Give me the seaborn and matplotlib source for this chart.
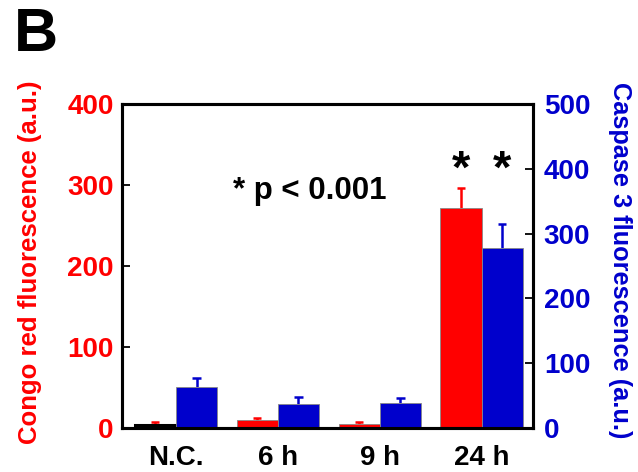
import numpy as np
import pandas as pd
import matplotlib
matplotlib.use("Agg")
import matplotlib.pyplot as plt
import seaborn as sns

# values
groups = ["N.C.", "6 h", "9 h", "24 h"]
congo = [4, 10, 4.5, 272]
congo_err = [4, 3, 3, 24]
casp = [64, 37, 38, 278]
casp_err = [14, 11, 9, 37]

RED = "#ff0000"
BLUE = "#0000cc"

sns.set_style("white")
plt.rcParams["font.family"] = ["Liberation Sans", "DejaVu Sans"]
plt.rcParams["font.weight"] = "bold"
plt.rcParams["text.color"] = "black"
plt.rcParams["xtick.color"] = "black"
plt.rcParams["ytick.color"] = "black"

fig = plt.figure(figsize=(6.38, 4.72), dpi=100)
ax = fig.add_axes([0.191, 0.093, 0.644, 0.687])
ax2 = ax.twinx()

hue_order = ["congo", "casp"]
pal = {"congo": RED, "casp": BLUE}
df_red = pd.DataFrame({"time": groups + groups, "series": ["congo"] * 4 + ["casp"] * 4,
                       "val": congo + [np.nan] * 4})
df_blue = pd.DataFrame({"time": groups + groups, "series": ["congo"] * 4 + ["casp"] * 4,
                        "val": [np.nan] * 4 + casp})

w = 0.81
sns.barplot(data=df_red, x="time", y="val", hue="series", hue_order=hue_order, order=groups,
            palette=pal, width=w, errorbar=None, legend=False, ax=ax,
            edgecolor="#888888", linewidth=0.6, saturation=1, zorder=3)
sns.barplot(data=df_blue, x="time", y="val", hue="series", hue_order=hue_order, order=groups,
            palette=pal, width=w, errorbar=None, legend=False, ax=ax2,
            edgecolor="#888888", linewidth=0.6, saturation=1, zorder=3)

# upper-only error bars with a cap on top
xs = np.arange(len(groups))
off = w / 4
cap = 0.04
for a, xpos, vals, errs, col in [(ax, xs - off, congo, congo_err, RED),
                                 (ax2, xs + off, casp, casp_err, BLUE)]:
    tops = np.array(vals) + np.array(errs)
    a.vlines(xpos, vals, tops, colors=col, linewidth=1.8, zorder=2)
    a.hlines(tops, xpos - cap, xpos + cap, colors=col, linewidth=1.8, zorder=2)

# black outline on the N.C. congo bar
for p in ax.patches:
    if abs(p.get_x() + p.get_width() / 2 - (0 - off)) < 0.01:
        p.set_edgecolor("black")
        p.set_linewidth(2.2)

ax.set_xlim(-0.53, 3.5)
ax.set_ylim(0, 400)
ax2.set_ylim(0, 500)
ax.set_yticks([0, 100, 200, 300, 400])
ax2.set_yticks([0, 100, 200, 300, 400, 500])
ax.set_xlabel("")
ax.set_ylabel("")
ax2.set_ylabel("")

for a in (ax, ax2):
    for s in a.spines.values():
        s.set_linewidth(2.2)
        s.set_color("black")
        s.set_zorder(5)

ax.tick_params(axis="y", direction="in", length=6, width=1.3, colors="black",
               labelcolor=RED, labelsize=20, pad=6)
ax2.tick_params(axis="y", direction="in", length=6, width=1.3, colors="black",
                labelcolor=BLUE, labelsize=20, pad=8)
ax.tick_params(axis="x", length=0, labelsize=20, labelcolor="black", pad=12)
for lab in ax.get_yticklabels() + ax2.get_yticklabels() + ax.get_xticklabels():
    lab.set_fontweight("bold")

fig.text(0.047, 0.445, "Congo red fluorescence (a.u.)", rotation=90, color=RED,
         fontsize=18.5, fontweight="bold", ha="center", va="center")
fig.text(0.972, 0.449, "Caspase 3 fluorescence (a.u.)", rotation=270, color=BLUE,
         fontsize=18.3, fontweight="bold", ha="center", va="center")
fig.text(0.022, 0.985, "B", fontsize=44, fontweight="bold", ha="left", va="top", color="black")

ax.text(1.31, 292, "* p < 0.001", fontsize=22.5, fontweight="bold", ha="center", va="center",
        color="black")
ax.text(3 - off, 318, "*", fontsize=34, fontweight="bold", ha="center", va="center", color="black")
ax.text(3 + off, 318, "*", fontsize=34, fontweight="bold", ha="center", va="center", color="black")

fig.savefig("out.png", dpi=100)
